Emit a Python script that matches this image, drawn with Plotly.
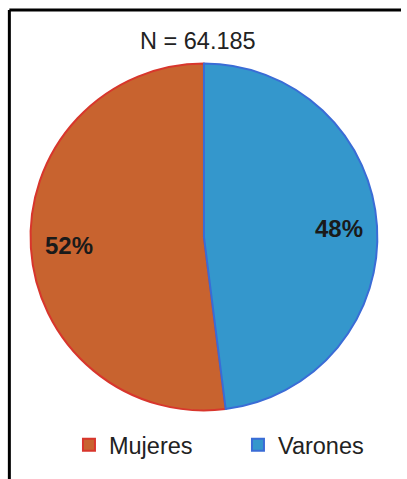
import math
import plotly.graph_objects as go

# Data
labels = ["Mujeres", "Varones"]
values = [52, 48]
title_text = "N = 64.185"

fill_colors = ["#C8632F", "#3497CC"]
line_colors = ["#D8362C", "#3A6CD6"]

W, H = 407, 479
FONT = "Arial, Liberation Sans, sans-serif"

# Pie geometry in pixels
CX, CY, R = 207, 237, 173.5
PAD = 2.5  # plotly trims the drawn radius a little inside its domain
total = sum(values)

# Varones runs clockwise from 12 o'clock; Mujeres fills the rest
start_rot = 360 * values[1] / total

fig = go.Figure(
    go.Pie(
        labels=labels,
        values=values,
        sort=False,
        direction="clockwise",
        rotation=start_rot,
        marker=dict(colors=fill_colors, line=dict(color=line_colors, width=2)),
        textinfo="none",
        domain=dict(x=[(CX - R - PAD) / W, (CX + R + PAD) / W],
                    y=[1 - (CY + R + PAD) / H, 1 - (CY - R - PAD) / H]),
        hoverinfo="label+percent",
    )
)

# Percent labels placed along each slice's mid-angle
angle = start_rot
for lab, val in zip(labels, values):
    span = 360 * val / total
    mid = math.radians(angle + span / 2)
    px = CX + 0.79 * R * math.sin(mid)
    py = CY - 0.79 * R * math.cos(mid)
    fig.add_annotation(text=f"<b>{round(100 * val / total)}%</b>",
                       xref="paper", yref="paper",
                       x=px / W, y=1 - py / H, showarrow=False,
                       xanchor="center", yanchor="middle",
                       font=dict(family=FONT, size=24, color="#1a1a1a"))
    angle += span

# Frame lines (top and left)
fig.add_shape(type="line", xref="paper", yref="paper",
              x0=9.5 / W, y0=1 - 10 / H, x1=1, y1=1 - 10 / H,
              line=dict(color="black", width=3))
fig.add_shape(type="line", xref="paper", yref="paper",
              x0=9.5 / W, y0=1 - 10 / H, x1=9.5 / W, y1=0,
              line=dict(color="black", width=3))

fig.add_annotation(text=title_text, xref="paper", yref="paper",
                   x=201 / W, y=1 - 41 / H, showarrow=False,
                   xanchor="center", yanchor="middle",
                   font=dict(family=FONT, size=23.5, color="#222222"))

fig.update_layout(
    width=W, height=H,
    margin=dict(l=0, r=0, t=0, b=0),
    paper_bgcolor="white",
    plot_bgcolor="white",
    showlegend=True,
    legend=dict(orientation="h", x=70 / W, xanchor="left",
                y=1 - 445 / H, yanchor="middle",
                font=dict(family=FONT, size=23.5, color="#222222"),
                itemwidth=30, entrywidth=124, traceorder="normal"),
)

fig.write_html("out.html")
